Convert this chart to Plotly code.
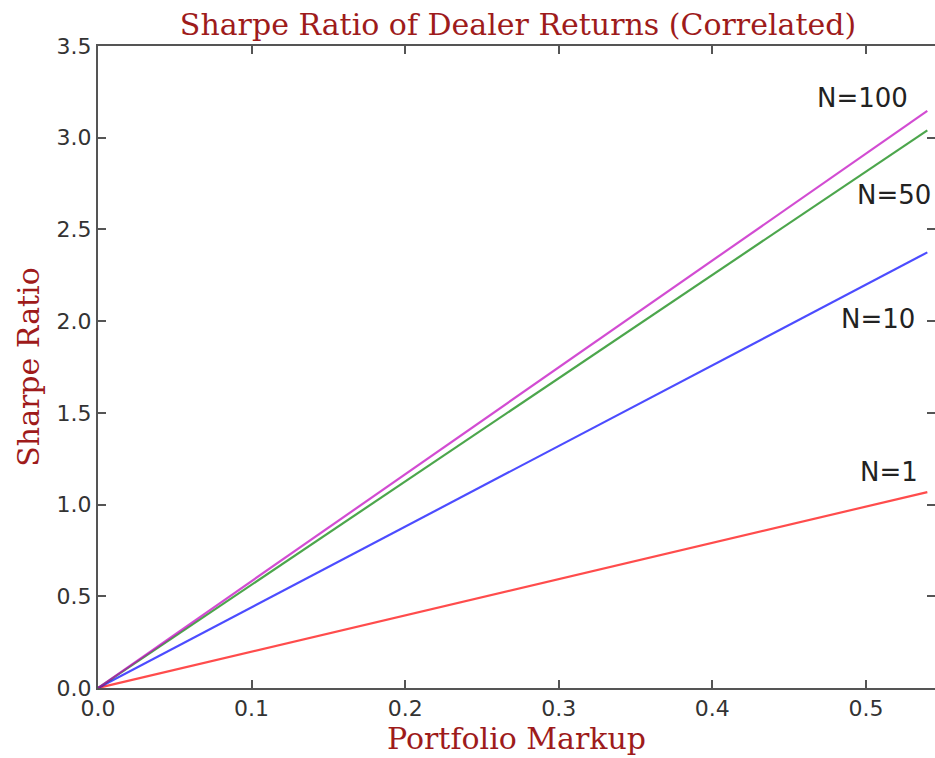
import plotly.graph_objects as go

markup = [0.0, 0.1, 0.2, 0.3, 0.4, 0.5, 0.54]
sharpe_n1 = [0.0, 0.198, 0.396, 0.593, 0.791, 0.989, 1.068]
sharpe_n10 = [0.0, 0.440, 0.880, 1.319, 1.759, 2.199, 2.375]
sharpe_n50 = [0.0, 0.563, 1.126, 1.689, 2.252, 2.815, 3.040]
sharpe_n100 = [0.0, 0.583, 1.165, 1.748, 2.330, 2.913, 3.146]

series_names = ["N=1", "N=10", "N=50", "N=100"]
series_values = [sharpe_n1, sharpe_n10, sharpe_n50, sharpe_n100]
series_colors = ["rgba(255,0,0,0.7)", "rgba(0,0,255,0.7)", "rgba(0,128,0,0.7)", "rgba(191,0,191,0.7)"]

label_x = [0.515, 0.508, 0.518, 0.498]
label_y = [1.18, 2.01, 2.69, 3.217]

x_ticks = [0.0, 0.1, 0.2, 0.3, 0.4, 0.5]
y_ticks = [0.0, 0.5, 1.0, 1.5, 2.0, 2.5, 3.0, 3.5]

title_color = "#9e1b1b"

fig = go.Figure()
for name, vals, col in zip(series_names, series_values, series_colors):
    fig.add_trace(go.Scatter(x=markup, y=vals, mode="lines", name=name,
                             line=dict(color=col, width=2.2), showlegend=False))

# invisible trace so the right-hand tick axis is drawn
fig.add_trace(go.Scatter(x=[markup[0]], y=[y_ticks[0]], yaxis="y2", mode="markers",
                         marker=dict(opacity=0), showlegend=False, hoverinfo="skip"))

for name, lx, ly in zip(series_names, label_x, label_y):
    fig.add_annotation(x=lx, y=ly, text=name, showarrow=False,
                       font=dict(family="DejaVu Sans", size=26, color="#222222"),
                       xanchor="center", yanchor="middle")

axis_common = dict(showgrid=False, zeroline=False, showline=True, linecolor="#555555",
                   linewidth=2, ticks="inside", ticklen=8, tickwidth=1.5,
                   tickcolor="#555555",
                   tickfont=dict(family="DejaVu Sans", size=22, color="#333333"))

fig.update_layout(
    width=935, height=758,
    paper_bgcolor="white", plot_bgcolor="white",
    margin=dict(l=98, r=0, t=46, b=70),
    title=dict(text="Sharpe Ratio of Dealer Returns (Correlated)", x=518 / 935, xanchor="center",
               y=1 - 24 / 758, yanchor="middle",
               font=dict(family="DejaVu Serif", size=30, color=title_color)),
    xaxis=dict(range=[0, 0.545], tickvals=x_ticks, ticktext=[f"{v:.1f}" for v in x_ticks],
               mirror="ticks",
               title=dict(text="Portfolio Markup", standoff=6,
                          font=dict(family="DejaVu Serif", size=30, color=title_color)),
               **axis_common),
    yaxis=dict(range=[0, 3.5], tickvals=y_ticks, ticktext=[f"{v:.1f}" for v in y_ticks],
               mirror=False,
               title=dict(text="Sharpe Ratio", standoff=8,
                          font=dict(family="DejaVu Serif", size=30, color=title_color)),
               **axis_common),
    yaxis2=dict(range=[0, 3.5], tickvals=y_ticks, overlaying="y", side="right",
                showticklabels=False, showgrid=False, zeroline=False, showline=False,
                ticks="inside", ticklen=8, tickwidth=1.5, tickcolor="#555555"),
)

fig.write_html("out.html", config={"displayModeBar": False},
               post_script="document.body.style.margin='0';document.body.style.overflow='hidden';")
